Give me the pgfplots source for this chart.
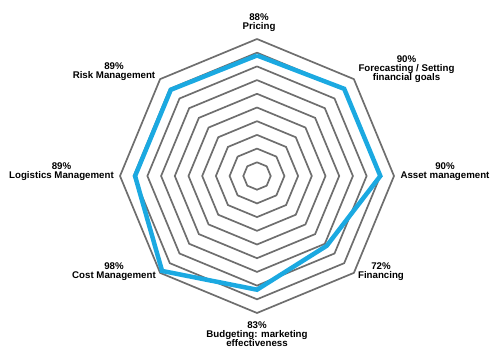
\documentclass[border=0pt]{standalone}
\usepackage{pgfplots}
\pgfplotsset{compat=1.18}
\usepackage{fontspec}
\setmainfont{Liberation Sans}
\definecolor{gridgray}{HTML}{6E6E6E}
\definecolor{radarblue}{HTML}{1BA9E1}
\begin{document}
\begin{tikzpicture}
\begin{axis}[
  width=500pt, height=363pt, scale only axis,
  hide axis,
  xmin=-187.59, xmax=177.37, ymin=-136.50, ymax=128.47,
  clip=false,
]
\path (rel axis cs:0,0) rectangle (rel axis cs:1,1);
\pgfplotsinvokeforeach{10,20,30,40,50,60,70,80,90,100}{
  \addplot[gridgray, line width=1.7pt, data cs=polar, line join=miter] coordinates {
    (90,#1) (45,#1) (0,#1) (-45,#1) (-90,#1) (-135,#1) (180,#1) (135,#1) (90,#1)
  };
}
\addplot[radarblue, line width=4.5pt, data cs=polar, line join=miter] coordinates {
  (90,88) (45,90) (0,90) (-45,72) (-90,83) (-135,98) (180,89) (135,89) (90,88)
};
\tikzset{lab/.style={align=center, font=\fontsize{9.7}{9.2}\selectfont\bfseries, inner sep=0pt}}
\node[lab] at (rel axis cs:0.518,0.938) {88\%\\Pricing};
\node[lab] at (rel axis cs:0.813,0.809) {90\%\\Forecasting / Setting\\financial goals};
\node[lab] at (rel axis cs:0.890,0.528) {90\%\\Asset management};
\node[lab] at (rel axis cs:0.762,0.251) {72\%\\Financing};
\node[lab] at (rel axis cs:0.514,0.080) {83\%\\Budgeting: marketing\\effectiveness};
\node[lab] at (rel axis cs:0.228,0.251) {98\%\\Cost Management};
\node[lab] at (rel axis cs:0.123,0.528) {89\%\\Logistics Management};
\node[lab] at (rel axis cs:0.228,0.803) {89\%\\Risk Management};
\end{axis}
\end{tikzpicture}
\end{document}
